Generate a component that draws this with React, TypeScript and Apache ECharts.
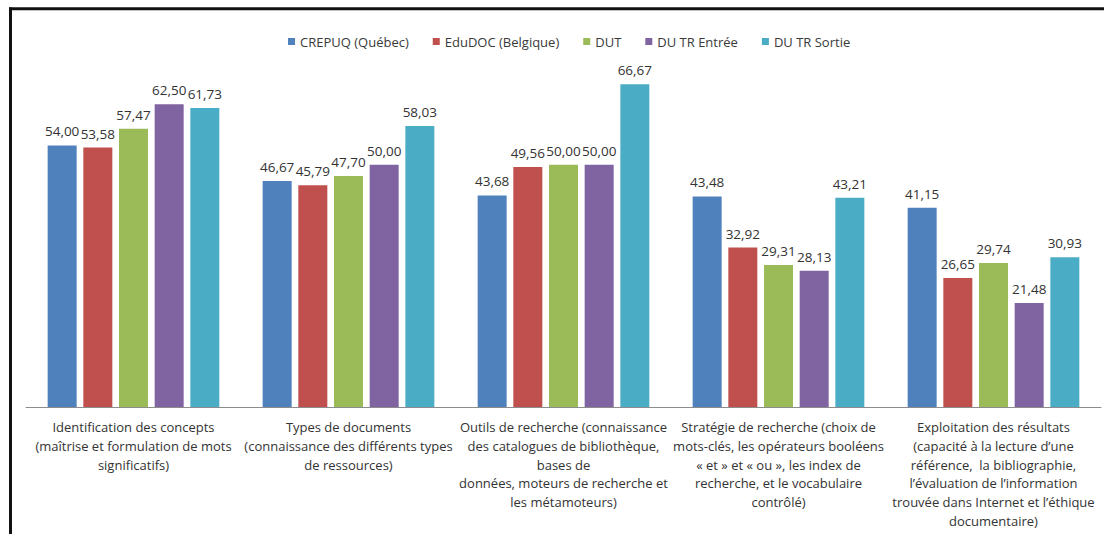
import React, { useEffect, useRef } from "react";
import * as echarts from "echarts";

const categories = [
  "Identification des concepts\n(maîtrise et formulation de mots\nsignificatifs)",
  "Types de documents\n(connaissance des différents types\nde ressources)",
  "Outils de recherche (connaissance\ndes catalogues de bibliothèque,\nbases de\ndonnées, moteurs de recherche et\nles métamoteurs)",
  "Stratégie de recherche (choix de\nmots-clés, les opérateurs booléens\n« et » et « ou », les index de\nrecherche, et le vocabulaire\ncontrôlé)",
  "Exploitation des résultats\n(capacité à la lecture d’une\nréférence,  la bibliographie,\nl’évaluation de l’information\ntrouvée dans Internet et l’éthique\ndocumentaire)",
];

const seriesNames = ["CREPUQ (Québec)", "EduDOC (Belgique)", "DUT", "DU TR Entrée", "DU TR Sortie"];
const crepuq = [54.0, 46.67, 43.68, 43.48, 41.15];
const edudoc = [53.58, 45.79, 49.56, 32.92, 26.65];
const dut = [57.47, 47.7, 50.0, 29.31, 29.74];
const duTrEntree = [62.5, 50.0, 50.0, 28.13, 21.48];
const duTrSortie = [61.73, 58.03, 66.67, 43.21, 30.93];
const seriesColors = ["#4F81BD", "#C0504D", "#9BBB59", "#8064A2", "#4BACC6"];

const FONT = "'Open Sans', Lato, sans-serif";

export default function App() {
  const ref = useRef<HTMLDivElement>(null);
  useEffect(() => {
    document.body.style.margin = "0";
    if (!ref.current) return;
    const chart = echarts.init(ref.current, undefined, { renderer: "svg" });
    const allData = [crepuq, edudoc, dut, duTrEntree, duTrSortie];
    chart.setOption({
      animation: false,
      backgroundColor: "#ffffff",
      textStyle: { fontFamily: FONT },
      legend: {
        top: 30,
        left: 283,
        icon: "rect",
        itemWidth: 7,
        itemHeight: 7,
        itemGap: 24,
        textStyle: { fontFamily: FONT, fontSize: 13, color: "#3a3a3a" },
        data: seriesNames,
      },
      grid: { left: 26, right: 3, top: 68, bottom: 127, containLabel: false },
      xAxis: {
        type: "category",
        data: categories,
        axisLine: { show: true, lineStyle: { color: "#8c8c8c", width: 1 } },
        axisTick: { show: false },
        axisLabel: {
          interval: 0,
          margin: 11,
          fontFamily: FONT,
          fontSize: 13,
          lineHeight: 18.7,
          color: "#333333",
          align: "center",
        },
      },
      yAxis: {
        type: "value",
        min: 0,
        max: 70,
        show: false,
        splitLine: { show: false },
      },
      graphic: [
        {
          type: "line",
          shape: { x1: 9, y1: 8.7, x2: 1104, y2: 8.7 },
          style: { stroke: "#111111", lineWidth: 3 },
        },
        {
          type: "line",
          shape: { x1: 10.5, y1: 7.5, x2: 10.5, y2: 534 },
          style: { stroke: "#111111", lineWidth: 3 },
        },
      ],
      series: seriesNames.map((name, i) => ({
        name,
        type: "bar",
        data: allData[i],
        barWidth: 29,
        barGap: "23%",
        itemStyle: { color: seriesColors[i] },
        label: {
          show: true,
          position: "top",
          distance: 7,
          fontFamily: FONT,
          fontSize: 13.5,
          color: "#333333",
          formatter: (p: any) => Number(p.value).toFixed(2).replace(".", ","),
        },
      })),
    });
    return () => chart.dispose();
  }, []);
  return <div ref={ref} style={{ width: 1104, height: 534 }} />;
}
